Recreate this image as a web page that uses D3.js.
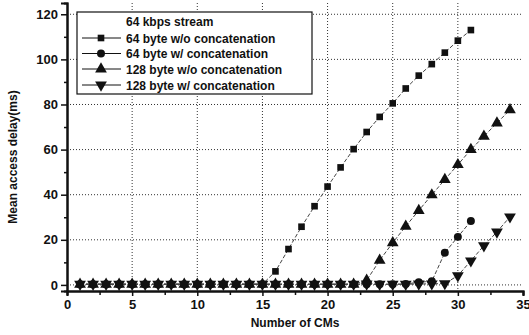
<!DOCTYPE html>
<html>
<head>
<meta charset="utf-8">
<script src="https://cdn.jsdelivr.net/npm/d3@7"></script>
<style>
  body { margin: 0; background: #fff; }
  text { font-family: "Liberation Sans", Arial, sans-serif; font-weight: bold; fill: #111; }
</style>
</head>
<body>
<div id="chart"></div>
<script>
//// DATA ////

var cms = d3.range(1, 35);   // 1..34

var sq64NoConcat = [0.3, 0.3, 0.3, 0.3, 0.3, 0.3, 0.3, 0.3, 0.3, 0.3, 0.3, 0.3, 0.3, 0.3, 0.3,
  6, 15.9, 25.8, 34.9, 43.6, 52.1, 60.2, 67.8, 74.5, 80.5, 87.1, 92.8, 97.9, 103, 108.3, 113];

var circ64Concat = [0.3, 0.3, 0.3, 0.3, 0.3, 0.3, 0.3, 0.3, 0.3, 0.3, 0.3, 0.3, 0.3, 0.3, 0.3,
  0.3, 0.3, 0.3, 0.3, 0.3, 0.3, 0.3, 0.3, 0.3, 0.3, 0.4, 1.2, 1.6, 14.3, 21.3, 28.3];

var tri128NoConcat = [0.3, 0.3, 0.3, 0.3, 0.3, 0.3, 0.3, 0.3, 0.3, 0.3, 0.3, 0.3, 0.3, 0.3, 0.3,
  0.3, 0.3, 0.3, 0.3, 0.3, 0.3, 0.3, 2.0, 10.9, 18.7, 26, 33, 39.9, 46.7, 53.3, 60, 65.9, 71.8, 77.6];

var inv128Concat = [0.3, 0.3, 0.3, 0.3, 0.3, 0.3, 0.3, 0.3, 0.3, 0.3, 0.3, 0.3, 0.3, 0.3, 0.3,
  0.3, 0.3, 0.3, 0.3, 0.3, 0.3, 0.3, 0.4, 0.3, 0.3, 0.3, 0.4, 0.5, 0.6, 4.1, 10.7, 17.4, 23.5, 30.2];

var seriesNames = ["64 byte w/o concatenation", "64 byte w/ concatenation",
  "128 byte w/o concatenation", "128 byte w/ concatenation"];
var seriesValues = [sq64NoConcat, circ64Concat, tri128NoConcat, inv128Concat];
var seriesSymbols = [d3.symbolSquare, d3.symbolCircle, d3.symbolTriangle, d3.symbolTriangle];

var xTicks = [0, 5, 10, 15, 20, 25, 30, 35];
var yTicks = [0, 20, 40, 60, 80, 100, 120];
var legendTitle = "64 kbps stream";

//// SET UP ////

var svgWidth = 529;
var svgHeight = 335;

var svg = d3.select("#chart")
  .append("svg")
  .attr("width", svgWidth)
  .attr("height", svgHeight);

var x = d3.scaleLinear().domain([0, 35]).range([67, 523]);
var y = d3.scaleLinear().domain([-2.7, 125]).range([291, 3]);

// grid lines
svg.append("g")
  .selectAll("line")
  .data(xTicks.filter(d => d > 0 && d < 35))
  .enter()
  .append("line")
  .attr("x1", d => x(d)).attr("x2", d => x(d))
  .attr("y1", y(125)).attr("y2", y(-2.7))
  .attr("stroke", "#333")
  .attr("stroke-width", 1)
  .attr("stroke-dasharray", "1,2");

svg.append("g")
  .selectAll("line")
  .data(yTicks)
  .enter()
  .append("line")
  .attr("x1", x(0)).attr("x2", x(35))
  .attr("y1", d => y(d)).attr("y2", d => y(d))
  .attr("stroke", "#333")
  .attr("stroke-width", 1)
  .attr("stroke-dasharray", "1,2");

// axes
var bottomAxis = d3.axisBottom(x).tickValues(xTicks).tickSize(5).tickPadding(4);
var bottomMinor = d3.axisBottom(x).tickValues(d3.range(2.5, 35, 5)).tickSize(4).tickFormat("");
var leftAxis = d3.axisLeft(y).tickValues(yTicks).tickSize(6).tickPadding(3);
var leftMinor = d3.axisLeft(y).tickValues(d3.range(10, 125, 20)).tickSize(3).tickFormat("");

var xAxis = svg.append("g")
  .attr("transform", `translate(0, ${y(-2.7)})`)
  .call(bottomAxis);
svg.append("g")
  .attr("transform", `translate(0, ${y(-2.7)})`)
  .call(bottomMinor);
var yAxis = svg.append("g")
  .attr("transform", `translate(${x(0)}, 0)`)
  .call(leftAxis);
svg.append("g")
  .attr("transform", `translate(${x(0)}, 0)`)
  .call(leftMinor);

svg.selectAll(".domain").attr("stroke", "#111").attr("stroke-width", 2);
svg.selectAll(".tick line").attr("stroke", "#111").attr("stroke-width", 1.5);
svg.selectAll(".tick text")
  .style("font-size", "13px")
  .style("font-family", "Liberation Sans, Arial, sans-serif")
  .style("font-weight", "bold")
  .attr("fill", "#111");

// axis titles
svg.append("text")
  .attr("x", 295)
  .attr("y", 327)
  .attr("text-anchor", "middle")
  .style("font-size", "12px")
  .text("Number of CMs");

svg.append("text")
  .attr("transform", "translate(17, 157) rotate(-90)")
  .attr("text-anchor", "middle")
  .style("font-size", "12px")
  .text("Mean access delay(ms)");

// series
var line = d3.line()
  .x((d, i) => x(cms[i]))
  .y(d => y(d));

seriesValues.forEach(function(vals, s) {
  svg.append("path")
    .datum(vals)
    .attr("d", line)
    .attr("fill", "none")
    .attr("stroke", "#444")
    .attr("stroke-width", 1)
    .attr("stroke-dasharray", "4,2");
});

function symbolTransform(s, px, py) {
  return s === 3 ? `translate(${px}, ${py}) rotate(180)` : `translate(${px}, ${py})`;
}

var symbolSizes = [44, 50, 60, 60];

seriesValues.forEach(function(vals, s) {
  svg.append("g")
    .selectAll("path")
    .data(vals)
    .enter()
    .append("path")
    .attr("d", d3.symbol().type(seriesSymbols[s]).size(symbolSizes[s]))
    .attr("transform", (d, i) => symbolTransform(s, x(cms[i]), y(d)))
    .attr("fill", "#111");
});

// legend
var legend = svg.append("g");

legend.append("rect")
  .attr("x", 77).attr("y", 12)
  .attr("width", 235).attr("height", 82)
  .attr("fill", "#fff")
  .attr("stroke", "#111")
  .attr("stroke-width", 1.2);

legend.append("text")
  .attr("x", 126).attr("y", 26)
  .style("font-size", "12px")
  .text(legendTitle);

var rowY = [38, 53.5, 69, 85];

seriesNames.forEach(function(name, s) {
  legend.append("line")
    .attr("x1", 82).attr("x2", 121)
    .attr("y1", rowY[s]).attr("y2", rowY[s])
    .attr("stroke", "#111")
    .attr("stroke-width", 1);
  legend.append("path")
    .attr("d", d3.symbol().type(seriesSymbols[s]).size(symbolSizes[s]))
    .attr("transform", symbolTransform(s, 101, rowY[s]))
    .attr("fill", "#111");
  legend.append("text")
    .attr("x", 126).attr("y", rowY[s] + 4.5)
    .style("font-size", "12px")
    .text(name);
});
</script>
</body>
</html>
